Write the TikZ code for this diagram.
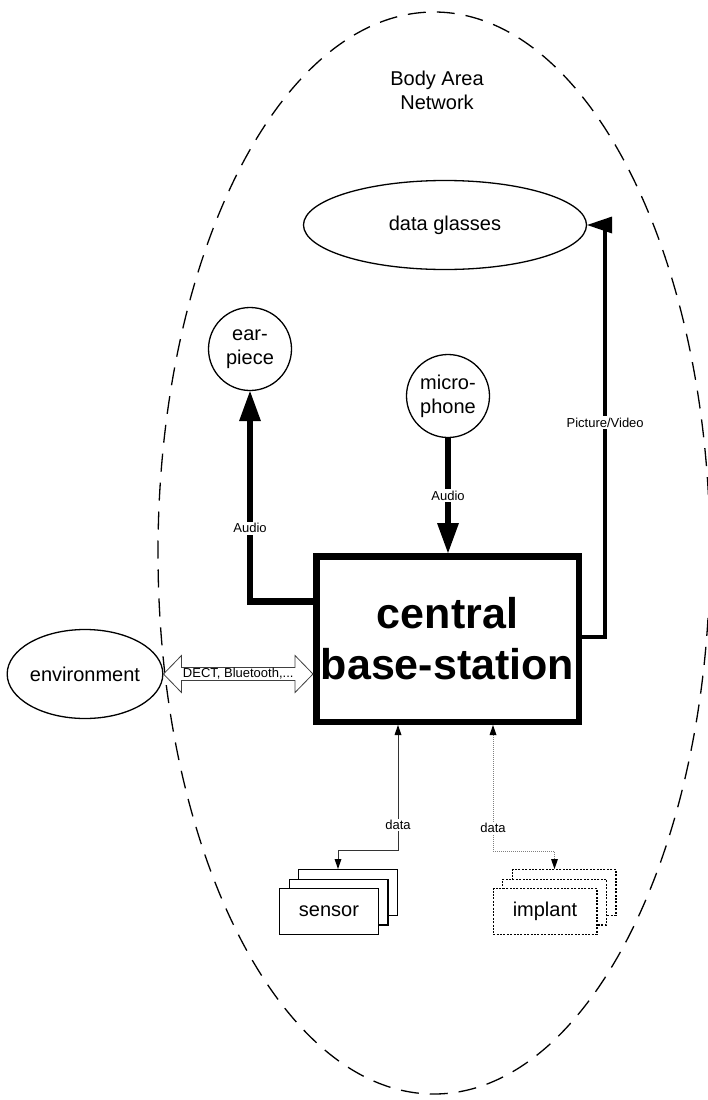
\documentclass[tikz,border=0pt]{standalone}
\usepackage{fontspec}
\setmainfont{Liberation Sans}
\usetikzlibrary{arrows.meta,shapes.geometric,calc}
\begin{document}
\begin{tikzpicture}[x=1pt,y=-1pt,
  every node/.style={font=\fontsize{20}{24}\selectfont, align=center},
  thinline/.style={line width=1.3pt},
  roundnode/.style={circle, draw, thinline, minimum size=83pt, inner sep=0pt},
  ovalnode/.style={ellipse, draw, thinline, inner sep=0pt},
  bigbox/.style={rectangle, draw, line width=6.5pt, minimum width=262.5pt,
    minimum height=165.5pt, inner sep=0pt,
    font=\fontsize{43}{51}\selectfont\bfseries},
  stackbox/.style={rectangle, draw, thinline, fill=white, minimum height=45.7pt, inner sep=0pt},
  dotbox/.style={stackbox, dash pattern=on 2pt off 1.4pt},
  tinylabel/.style={font=\fontsize{13}{15}\selectfont, fill=white, inner sep=1.5pt},
  audioarrow/.style={line width=6.7pt, -{Triangle[length=30pt,width=22pt,line width=0pt]}},
  pvline/.style={line width=3.6pt},
  sensorlink/.style={line width=0.9pt, draw=black!80, {Triangle[length=10pt,width=7pt,line width=0pt,color=black]}-{Triangle[length=10pt,width=7pt,line width=0pt,color=black]}},
  implantlink/.style={line width=0.9pt, draw=black!50, dash pattern=on 1pt off 1pt, {Triangle[length=10pt,width=7pt,line width=0pt,color=black]}-{Triangle[length=10pt,width=7pt,line width=0pt,color=black]}},
  hollowarrow/.style={line width=0.8pt, draw=black!75, fill=white, line join=miter},
  banline/.style={line width=1.3pt, dash pattern=on 18pt off 11pt}
]
\useasboundingbox (0,0) rectangle (707,1100);

% body area network boundary
\draw[banline] (434,553) ellipse [x radius=276pt, y radius=541pt];
\node (ban) at (437,90) {Body Area\\Network};

% devices
\node[ovalnode, minimum width=283pt, minimum height=89pt] (glasses) at (445,225) {data glasses};
\node[roundnode] (ear) at (250,349) {ear-\\piece};
\node[roundnode] (mic) at (448,396) {micro-\\phone};
\node[ovalnode, minimum width=153pt, minimum height=89pt] (env) at (85,674) {environment};
\node[bigbox] (cbs) at (447.5,639) {central\\base-station};

% sensor stack
\node[stackbox, minimum width=98.7pt] (sens3) at (348,892.5) {};
\node[stackbox, minimum width=98.7pt] (sens2) at (338.5,902) {};
\node[stackbox, minimum width=98.7pt] (sens1) at (329,911.5) {sensor};

% implant stack
\node[dotbox, minimum width=103.7pt] (imp3) at (564,892.5) {};
\node[dotbox, minimum width=103.7pt] (imp2) at (554.5,902) {};
\node[dotbox, minimum width=103.7pt] (imp1) at (545,911.5) {implant};

% audio links
\draw[audioarrow] ([yshift=37.5pt]cbs.west) -| (ear.south)
  node[tinylabel, pos=0.674] {Audio};
\draw[audioarrow] (mic.south) -- (mic.south |- cbs.north)
  node[tinylabel, midway] {Audio};

% picture / video link, ending in a left-pointing head at the glasses
\coordinate (pvc) at ($(glasses.east)+(18,0)$);
\draw[pvline] ([yshift=2pt]cbs.east) -| (pvc)
  node[tinylabel, pos=0.76] {Picture/Video};
\fill (glasses.east) -- ++(25,-8.5) -- ++(0,17) -- cycle;

% wireless link to the environment
\coordinate (dl) at (env.east);
\coordinate (dr) at (cbs.west |- env.east);
\draw[hollowarrow] (dl) -- ++(18,-18.5) -- ++(0,12) -- ($(dr)+(-18,-6.5)$)
  -- ++(0,-12) -- (dr) -- ++(-18,18.5) -- ++(0,-12) -- ($(dl)+(18,6.5)$)
  -- ++(0,12) -- cycle;
\node[font=\fontsize{13}{15}\selectfont, inner sep=0pt] (dect) at ($(dl)!0.5!(dr)$) {DECT, Bluetooth,...};

% data links
\draw[sensorlink] ([xshift=-49.5pt]cbs.south) -- ++(0,125)
  node[tinylabel, pos=0.8] {data} -| ([xshift=-10pt]sens3.north);
\draw[implantlink] ([xshift=45.5pt]cbs.south) -- ++(0,126)
  node[tinylabel, pos=0.82] {data} -| ([xshift=-9.5pt]imp3.north);
\end{tikzpicture}
\end{document}
